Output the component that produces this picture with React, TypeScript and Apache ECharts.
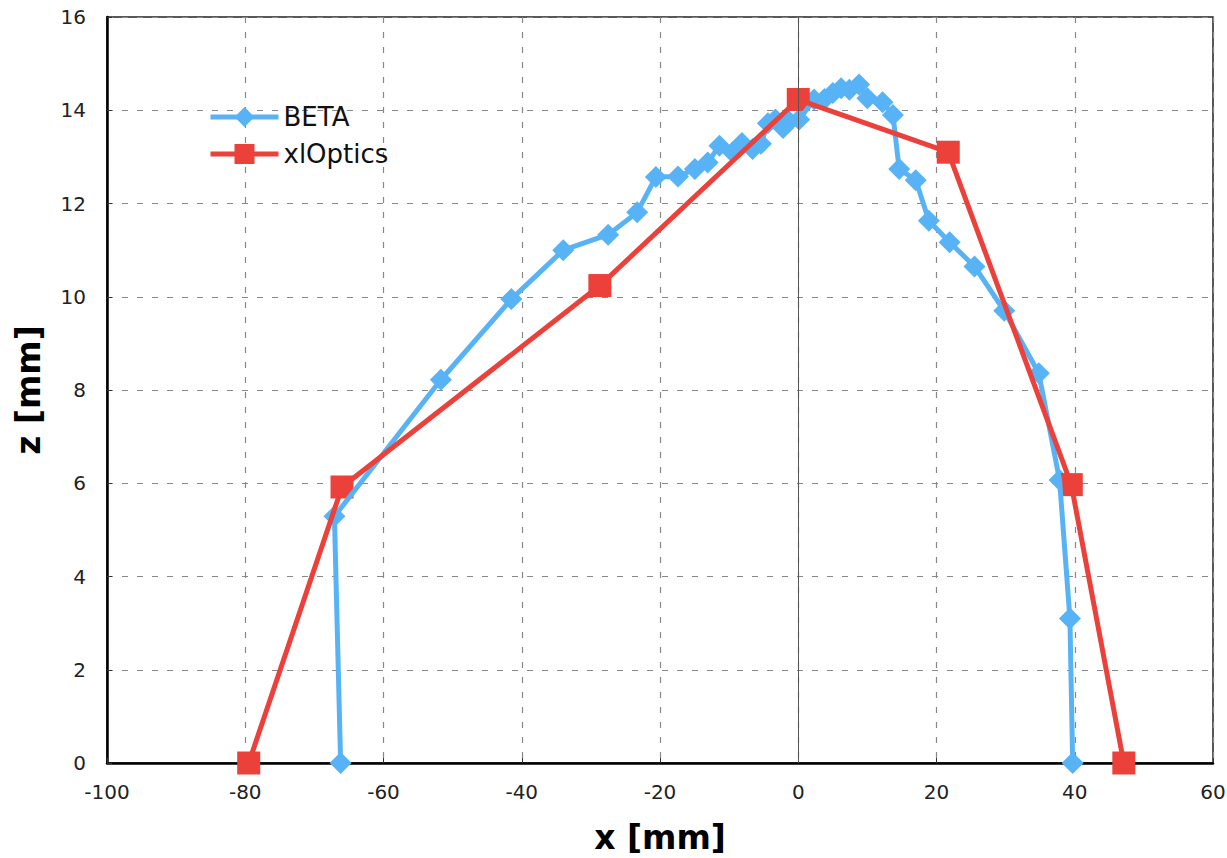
import React, { useEffect, useRef } from "react";
import * as echarts from "echarts";

const betaX = [-66.2, -67.1, -51.7, -41.5, -34.0, -27.5, -23.3, -20.6, -17.4, -14.95, -13.1, -11.4, -9.5, -8.15, -6.6, -5.4, -4.4, -3.3, -2.2, -1.3, 0.14, 2.3, 3.8, 5.0, 6.2, 7.4, 8.8, 10.0, 12.2, 13.7, 14.6, 17.0, 18.9, 21.9, 25.5, 29.8, 34.8, 37.8, 39.3, 39.7];
const betaZ = [0, 5.29, 8.22, 9.95, 11.0, 11.33, 11.81, 12.57, 12.58, 12.74, 12.88, 13.24, 13.1, 13.3, 13.17, 13.28, 13.72, 13.8, 13.62, 13.76, 13.8, 14.23, 14.24, 14.37, 14.47, 14.44, 14.55, 14.26, 14.17, 13.9, 12.74, 12.5, 11.63, 11.17, 10.65, 9.7, 8.36, 6.07, 3.1, 0];

const xlX = [-79.5, -66.0, -28.7, 0, 21.7, 39.5, 47.1];
const xlZ = [0, 5.92, 10.24, 14.23, 13.1, 5.97, 0];

const xTicks = { min: -100, max: 60, interval: 20 };
const zTicks = { min: 0, max: 16, interval: 2 };

const BLUE = "#58B3F6";
const RED = "#EC403A";
const FONT = "DejaVu Sans";

export default function App() {
  const ref = useRef<HTMLDivElement>(null);
  useEffect(() => {
    if (!ref.current) return;
    const chart = echarts.init(ref.current, undefined, { renderer: "svg" });
    const beta = betaX.map((x, i) => [x, betaZ[i]]);
    const xl = xlX.map((x, i) => [x, xlZ[i]]);
    chart.setOption({
      animation: false,
      backgroundColor: "#fff",
      grid: {
        left: 107,
        right: 14,
        top: 17,
        bottom: 95,
        outerBoundsMode: "none",
        containLabel: false,
        show: true,
        borderColor: "#222",
        borderWidth: 1.5,
      },
      legend: {
        data: ["BETA", "xlOptics"],
        orient: "vertical",
        left: 203,
        top: 99,
        itemWidth: 68,
        itemHeight: 25,
        itemGap: 11,
        lineStyle: { width: 5 },
        textStyle: { fontFamily: FONT, fontSize: 26, color: "#111" },
      },
      xAxis: {
        type: "value",
        min: xTicks.min,
        max: xTicks.max,
        interval: xTicks.interval,
        name: "x [mm]",
        nameLocation: "middle",
        nameGap: 58,
        nameMoveOverlap: false,
        nameTextStyle: { fontFamily: FONT, fontSize: 33, fontWeight: "bold", color: "#000" },
        axisLine: { show: true, lineStyle: { color: "#000", width: 2.5 } },
        axisTick: { show: true, inside: true, length: 5, lineStyle: { color: "#333" } },
        axisLabel: { fontFamily: FONT, fontSize: 20, color: "#222", margin: 19 },
        splitLine: { show: true, lineStyle: { color: "#888", type: [6, 9], width: 1.2 } },
      },
      yAxis: {
        type: "value",
        min: zTicks.min,
        max: zTicks.max,
        interval: zTicks.interval,
        name: "z [mm]",
        nameLocation: "middle",
        nameRotate: 90,
        nameGap: 62,
        nameMoveOverlap: false,
        nameTextStyle: { fontFamily: FONT, fontSize: 33, fontWeight: "bold", color: "#000" },
        axisLine: { show: true, onZero: false, lineStyle: { color: "#000", width: 2.5 } },
        axisTick: { show: true, inside: true, length: 5, lineStyle: { color: "#333" } },
        axisLabel: { fontFamily: FONT, fontSize: 20, color: "#222", margin: 21 },
        splitLine: { show: true, lineStyle: { color: "#888", type: [6, 9], width: 1.2 } },
      },
      series: [
        {
          name: "BETA",
          type: "line",
          data: beta,
          symbol: "diamond",
          showSymbol: false,
          color: BLUE,
          lineStyle: { color: BLUE, width: 5 },
          itemStyle: { color: BLUE },
          markLine: {
            silent: true,
            symbol: "none",
            label: { show: false },
            lineStyle: { color: "#555", type: "solid", width: 1 },
            data: [{ xAxis: 0 }],
          },
        },
        {
          name: "xlOptics",
          type: "line",
          data: xl,
          symbol: "rect",
          showSymbol: false,
          color: RED,
          lineStyle: { color: RED, width: 5 },
          itemStyle: { color: RED },
        },
        {
          name: "BETA pts",
          type: "scatter",
          data: beta,
          symbol: "diamond",
          symbolSize: 22,
          itemStyle: { color: BLUE, opacity: 1 },
        },
        {
          name: "xlOptics pts",
          type: "scatter",
          data: xl,
          symbol: "rect",
          symbolSize: 23,
          itemStyle: { color: RED, opacity: 1 },
        },
      ],
    });
    return () => chart.dispose();
  }, []);
  return <div ref={ref} style={{ width: 1227, height: 858, position: "absolute", left: 0, top: 0 }} />;
}
